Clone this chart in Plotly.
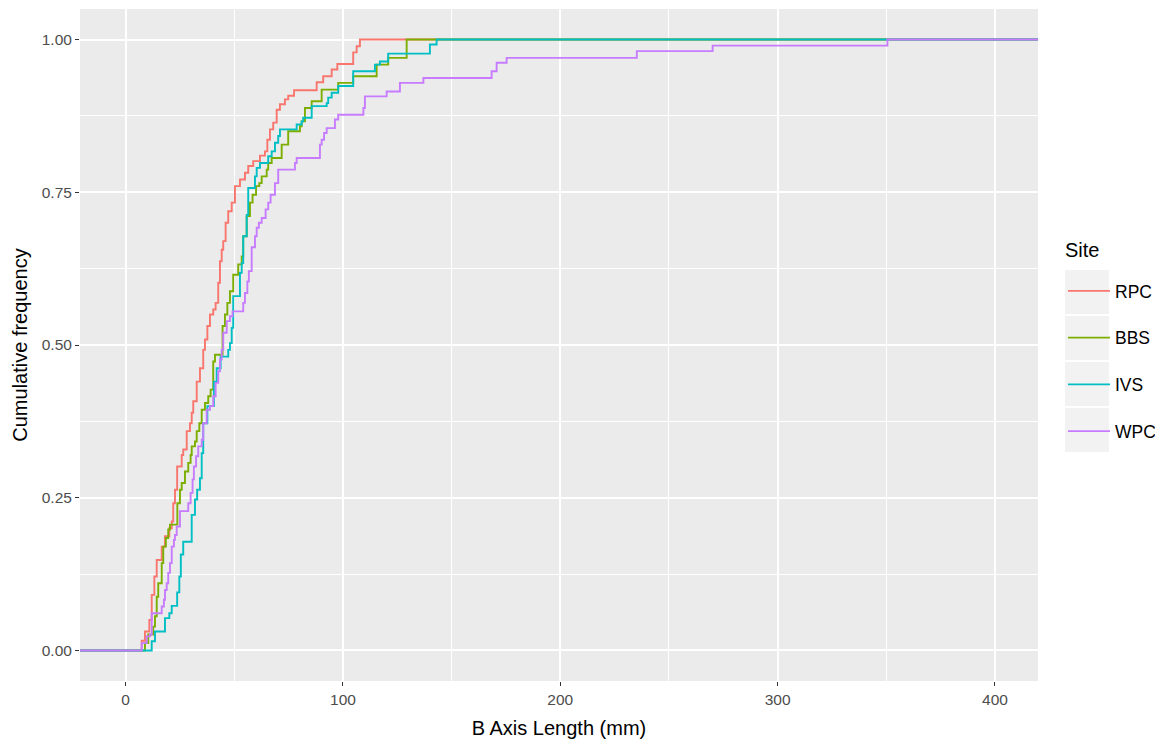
import plotly.graph_objects as go

# ---- data: ECDF step positions (B axis length, mm) and cumulative frequency after each step ----
sites = ["RPC", "BBS", "IVS", "WPC"]
colors = ["#F8766D", "#7CAE00", "#00BFC4", "#C77CFF"]

rpc_x = [7.4, 8.9, 10.9, 12.0, 13.2, 14.3, 16.6, 18.1, 20.1, 21.2, 21.9, 22.7, 23.7, 25.8, 26.5,
         28.1, 29.6, 30.4, 31.1, 32.7, 34.2, 35.7, 36.5, 37.6, 38.8, 40.3, 41.4, 42.6, 43.4, 44.2,
         44.9, 46.0, 47.2, 48.8, 50.3, 52.6, 54.9, 56.4, 58.7, 61.8, 64.1, 65.2, 66.4, 67.9, 69.5,
         71.0, 73.3, 74.8, 77.5, 87.9, 90.9, 94.8, 97.4, 104.7, 106.3, 107.8]
rpc_y = [0.016, 0.031, 0.050, 0.091, 0.121, 0.148, 0.170, 0.187, 0.200, 0.211, 0.241, 0.263, 0.301, 0.320, 0.329,
         0.359, 0.372, 0.389, 0.408, 0.440, 0.462, 0.492, 0.509, 0.531, 0.550, 0.558, 0.569, 0.602, 0.637, 0.656,
         0.670, 0.700, 0.719, 0.733, 0.760, 0.771, 0.782, 0.793, 0.801, 0.810, 0.817, 0.836, 0.853, 0.864, 0.885,
         0.894, 0.902, 0.908, 0.917, 0.930, 0.940, 0.951, 0.960, 0.979, 0.989, 1.000]

bbs_x = [8.9, 10.4, 12.7, 13.5, 14.3, 15.0, 16.6, 17.3, 18.5, 19.6, 20.4, 23.8, 25.0, 25.8, 27.3,
         28.8, 29.9, 30.4, 31.9, 32.7, 33.9, 35.0, 36.5, 38.0, 39.1, 40.3, 41.1, 44.6, 45.7, 46.8,
         48.0, 49.5, 51.8, 53.4, 54.1, 55.7, 57.2, 58.4, 60.0, 61.5, 62.6, 64.9, 65.6, 67.2, 71.8,
         74.8, 80.2, 81.0, 82.5, 85.6, 90.2, 97.8, 104.7, 115.5, 120.8, 129.3]
bbs_y = [0.012, 0.026, 0.039, 0.056, 0.088, 0.110, 0.143, 0.170, 0.184, 0.198, 0.206, 0.241, 0.263, 0.274, 0.293,
         0.307, 0.320, 0.334, 0.342, 0.359, 0.372, 0.394, 0.405, 0.416, 0.427, 0.473, 0.484, 0.531, 0.550, 0.569,
         0.588, 0.615, 0.632, 0.645, 0.678, 0.711, 0.733, 0.746, 0.760, 0.765, 0.776, 0.787, 0.798, 0.806, 0.828,
         0.850, 0.858, 0.866, 0.888, 0.899, 0.918, 0.929, 0.940, 0.959, 0.970, 1.000]

ivs_x = [12.0, 13.5, 18.1, 20.1, 21.2, 23.7, 24.7, 25.4, 26.5, 30.4, 31.9, 32.9, 34.2, 35.0, 35.7,
         37.6, 40.6, 41.9, 43.7, 47.2, 48.0, 48.8, 49.5, 52.6, 53.4, 54.1, 55.7, 56.4, 59.5, 60.3,
         61.8, 65.6, 67.2, 68.7, 70.2, 71.0, 78.7, 81.0, 81.7, 85.6, 92.5, 93.2, 94.8, 97.8, 104.7,
         114.7, 117.0, 120.8, 140.0, 143.1]
ivs_y = [0.015, 0.031, 0.053, 0.061, 0.073, 0.095, 0.121, 0.157, 0.178, 0.222, 0.247, 0.263, 0.282, 0.323, 0.372,
         0.400, 0.440, 0.462, 0.481, 0.492, 0.503, 0.528, 0.580, 0.618, 0.634, 0.678, 0.713, 0.757, 0.776, 0.790,
         0.798, 0.809, 0.817, 0.831, 0.842, 0.853, 0.861, 0.866, 0.872, 0.891, 0.896, 0.905, 0.913, 0.924, 0.948,
         0.959, 0.964, 0.977, 0.992, 1.000]

wpc_x = [7.4, 9.7, 11.2, 12.0, 16.6, 17.6, 18.1, 18.9, 19.6, 20.4, 21.2, 22.2, 22.7, 23.5, 25.0,
         28.8, 29.9, 30.8, 31.4, 32.4, 33.4, 35.0, 35.7, 37.3, 38.8, 40.3, 41.4, 42.6, 43.4, 44.2,
         44.9, 46.5, 48.0, 49.2, 54.1, 54.9, 56.0, 56.7, 58.0, 59.5, 60.3, 61.3, 62.6, 64.4, 65.6,
         66.7, 68.7, 70.2, 77.9, 78.7, 89.4, 90.2, 91.3, 92.5, 96.3, 97.8, 109.4, 110.1, 120.1, 126.2,
         137.0, 168.4, 170.7, 175.3, 235.2, 270.1, 350.5]
wpc_y = [0.012, 0.023, 0.026, 0.061, 0.072, 0.083, 0.099, 0.110, 0.127, 0.143, 0.170, 0.181, 0.189, 0.203, 0.228,
         0.241, 0.258, 0.280, 0.301, 0.318, 0.334, 0.345, 0.372, 0.394, 0.400, 0.416, 0.438, 0.457, 0.476, 0.492,
         0.520, 0.539, 0.547, 0.555, 0.569, 0.585, 0.604, 0.621, 0.660, 0.678, 0.692, 0.700, 0.708, 0.722, 0.733,
         0.746, 0.765, 0.787, 0.798, 0.806, 0.828, 0.836, 0.847, 0.855, 0.869, 0.877, 0.888, 0.907, 0.915, 0.929,
         0.937, 0.948, 0.962, 0.970, 0.981, 0.990, 1.000]

x_ticks = [0, 100, 200, 300, 400]
y_ticks = [0, 0.25, 0.5, 0.75, 1.0]
y_tick_labels = ["0.00", "0.25", "0.50", "0.75", "1.00"]

# ECDF padding (like -Inf / Inf in ggplot's stat_ecdf)
pad_lo, pad_hi = -60, 480

series = [(rpc_x, rpc_y), (bbs_x, bbs_y), (ivs_x, ivs_y), (wpc_x, wpc_y)]

fig = go.Figure()
for name, col, (xs, ys) in zip(sites, colors, series):
    fig.add_trace(go.Scatter(
        x=[pad_lo] + xs + [pad_hi], y=[0] + ys + [1],
        mode="lines", line=dict(color=col, width=1.9, shape="hv"),
        name=name, legendgroup=name, hoverinfo="skip"))

# page has an 8px body margin; figure is sized to fit the 1163x742 window
BODY = 8
W, H = 1163 - BODY, 742 - BODY
PL, PR, PT, PB = 80, 1038, 9, 681          # plot area in page pixels
ml, mt = PL - BODY, PT - BODY
pw, ph = PR - PL, PB - PT
mr = W - ml - pw
mb = H - mt - ph

def px2paper_x(px):
    return (px - PL) / pw

def px2paper_y(py):
    return (PB - py) / ph

# grey key backgrounds behind legend entries (ggplot style)
shapes = []
for i in range(4):
    top = 270 + 46 * i
    bot = top + 44
    shapes.append(dict(type="rect", xref="paper", yref="paper",
                       x0=px2paper_x(1065), x1=px2paper_x(1109),
                       y0=px2paper_y(bot), y1=px2paper_y(top),
                       fillcolor="#F2F2F2", line=dict(width=0), layer="below"))

fig.update_layout(
    width=W, height=H,
    margin=dict(l=ml, r=mr, t=mt, b=mb, autoexpand=False),
    paper_bgcolor="white", plot_bgcolor="#EBEBEB",
    font=dict(family="Liberation Sans, Arial, sans-serif", color="#4D4D4D", size=15),
    shapes=shapes,
    annotations=[dict(text="Site", xref="paper", yref="paper",
                      x=px2paper_x(1063), y=px2paper_y(250),
                      xanchor="left", yanchor="middle", showarrow=False,
                      font=dict(size=20, color="black"))],
    showlegend=True,
    legend=dict(
        font=dict(size=17.5, color="black"),
        x=px2paper_x(1063), xanchor="left",
        y=px2paper_y(273), yanchor="top",
        bgcolor="rgba(0,0,0,0)", tracegroupgap=21,
        itemwidth=42,
    ),
    xaxis=dict(
        range=[-21.0, 419.8], tickvals=x_ticks, ticktext=[str(v) for v in x_ticks],
        showgrid=True, gridcolor="white", gridwidth=2,
        minor=dict(dtick=50, tick0=0, showgrid=True, gridcolor="white", gridwidth=1),
        zeroline=False, showline=False, automargin=False,
        ticks="outside", ticklen=4, tickwidth=1, tickcolor="#333333",
        tickfont=dict(size=15.5, color="#4D4D4D"),
        title=dict(text="B Axis Length (mm)", font=dict(size=20, color="black"), standoff=14),
    ),
    yaxis=dict(
        range=[-0.05, 1.05], tickvals=y_ticks, ticktext=y_tick_labels,
        showgrid=True, gridcolor="white", gridwidth=2,
        minor=dict(dtick=0.125, tick0=0, showgrid=True, gridcolor="white", gridwidth=1),
        zeroline=False, showline=False, automargin=False,
        ticks="outside", ticklen=4, tickwidth=1, tickcolor="#333333",
        tickfont=dict(size=15.5, color="#4D4D4D"),
        title=dict(text="Cumulative frequency", font=dict(size=20, color="black"), standoff=8),
    ),
)

fig.write_html("out.html")
